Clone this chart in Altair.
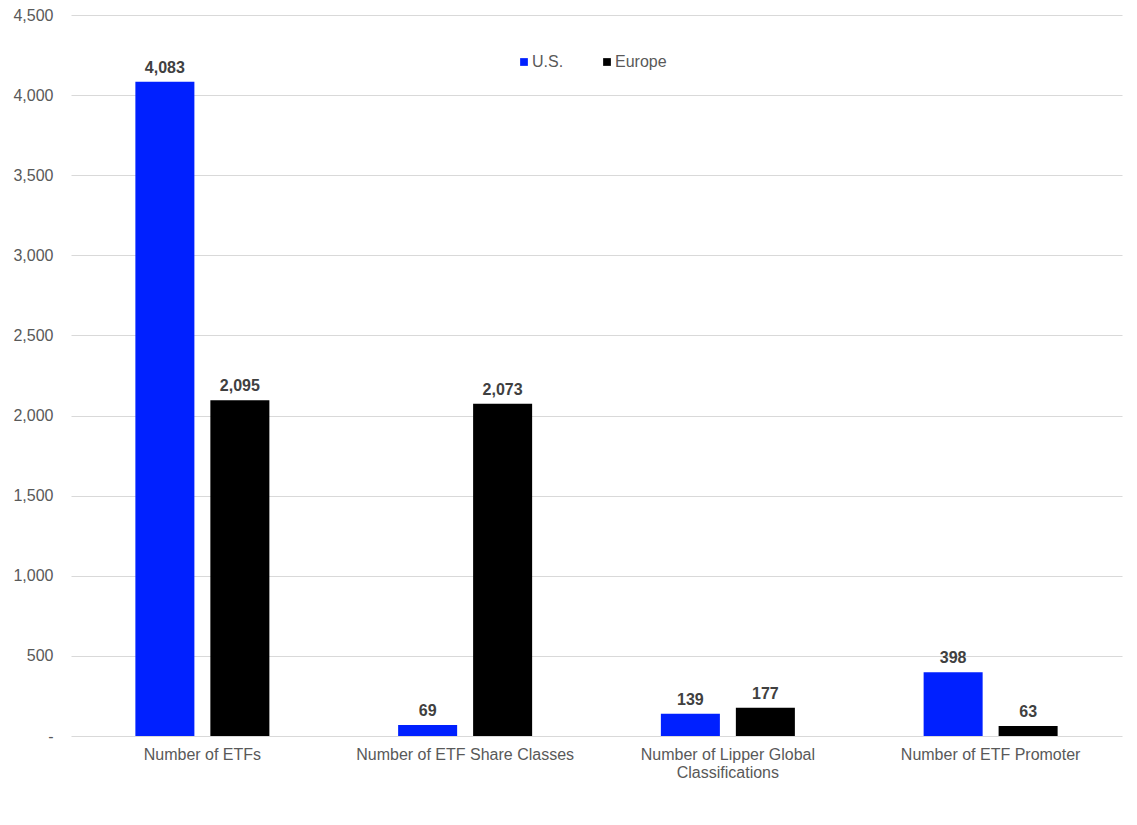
import altair as alt
import pandas as pd

categories = ["Number of ETFs", "Number of ETF Share Classes",
              "Number of Lipper Global Classifications", "Number of ETF Promoter"]
us_values = [4083, 69, 139, 398]
europe_values = [2095, 2073, 177, 63]
series = ["U.S.", "Europe"]
colors = ["#0020FF", "#000000"]

rows = []
for c, u, e in zip(categories, us_values, europe_values):
    rows.append({"category": c, "region": "U.S.", "value": u})
    rows.append({"category": c, "region": "Europe", "value": e})
df = pd.DataFrame(rows)

font = "Liberation Sans"

x = alt.X("category:N", sort=categories, title=None,
          scale=alt.Scale(paddingInner=0.49, paddingOuter=0.245),
          axis=alt.Axis(labelAngle=0, labelFontSize=16, labelColor="#595959", labelFont=font,
                        ticks=False, domain=False, labelPadding=10, labelLimit=300,
                        labelLineHeight=18,
                        labelExpr="datum.value == 'Number of Lipper Global Classifications' ? ['Number of Lipper Global', 'Classifications'] : datum.value"))
xo = alt.XOffset("region:N", sort=series,
                 scale=alt.Scale(paddingInner=0.213, paddingOuter=0))
y = alt.Y("value:Q", title=None,
          scale=alt.Scale(domain=[0, 4500]),
          axis=alt.Axis(values=list(range(0, 4501, 500)), labelFontSize=16, labelColor="#595959",
                        labelFont=font, ticks=False, domain=False, labelPadding=18,
                        gridColor="#d9d9d9", gridWidth=1,
                        labelExpr="datum.value == 0 ? '-' : format(datum.value, ',')"))
color = alt.Color("region:N", sort=series,
                  scale=alt.Scale(domain=series, range=colors),
                  legend=alt.Legend(title=None, orient="none", direction="horizontal",
                                    legendX=445, legendY=39, symbolType="square",
                                    symbolSize=60, labelFontSize=16, labelColor="#595959",
                                    labelFont=font, columnPadding=35, labelOffset=0,
                                    symbolStrokeWidth=0))

bars = alt.Chart(df).mark_bar().encode(x=x, xOffset=xo, y=y, color=color)
labels = alt.Chart(df).mark_text(baseline="alphabetic", dy=-9, fontSize=16, fontWeight="bold",
                                 color="#404040", font=font).encode(
    x=x, xOffset=xo, y=y, text=alt.Text("value:Q", format=","))

chart = (bars + labels).properties(
    width=1051, height=721,
    autosize=alt.AutoSizeParams(type="none"),
    padding={"left": 63, "top": 7, "right": 7, "bottom": 60},
).configure_view(stroke=None)

chart.save("out.html", embed_options={"renderer": "svg", "actions": False})
